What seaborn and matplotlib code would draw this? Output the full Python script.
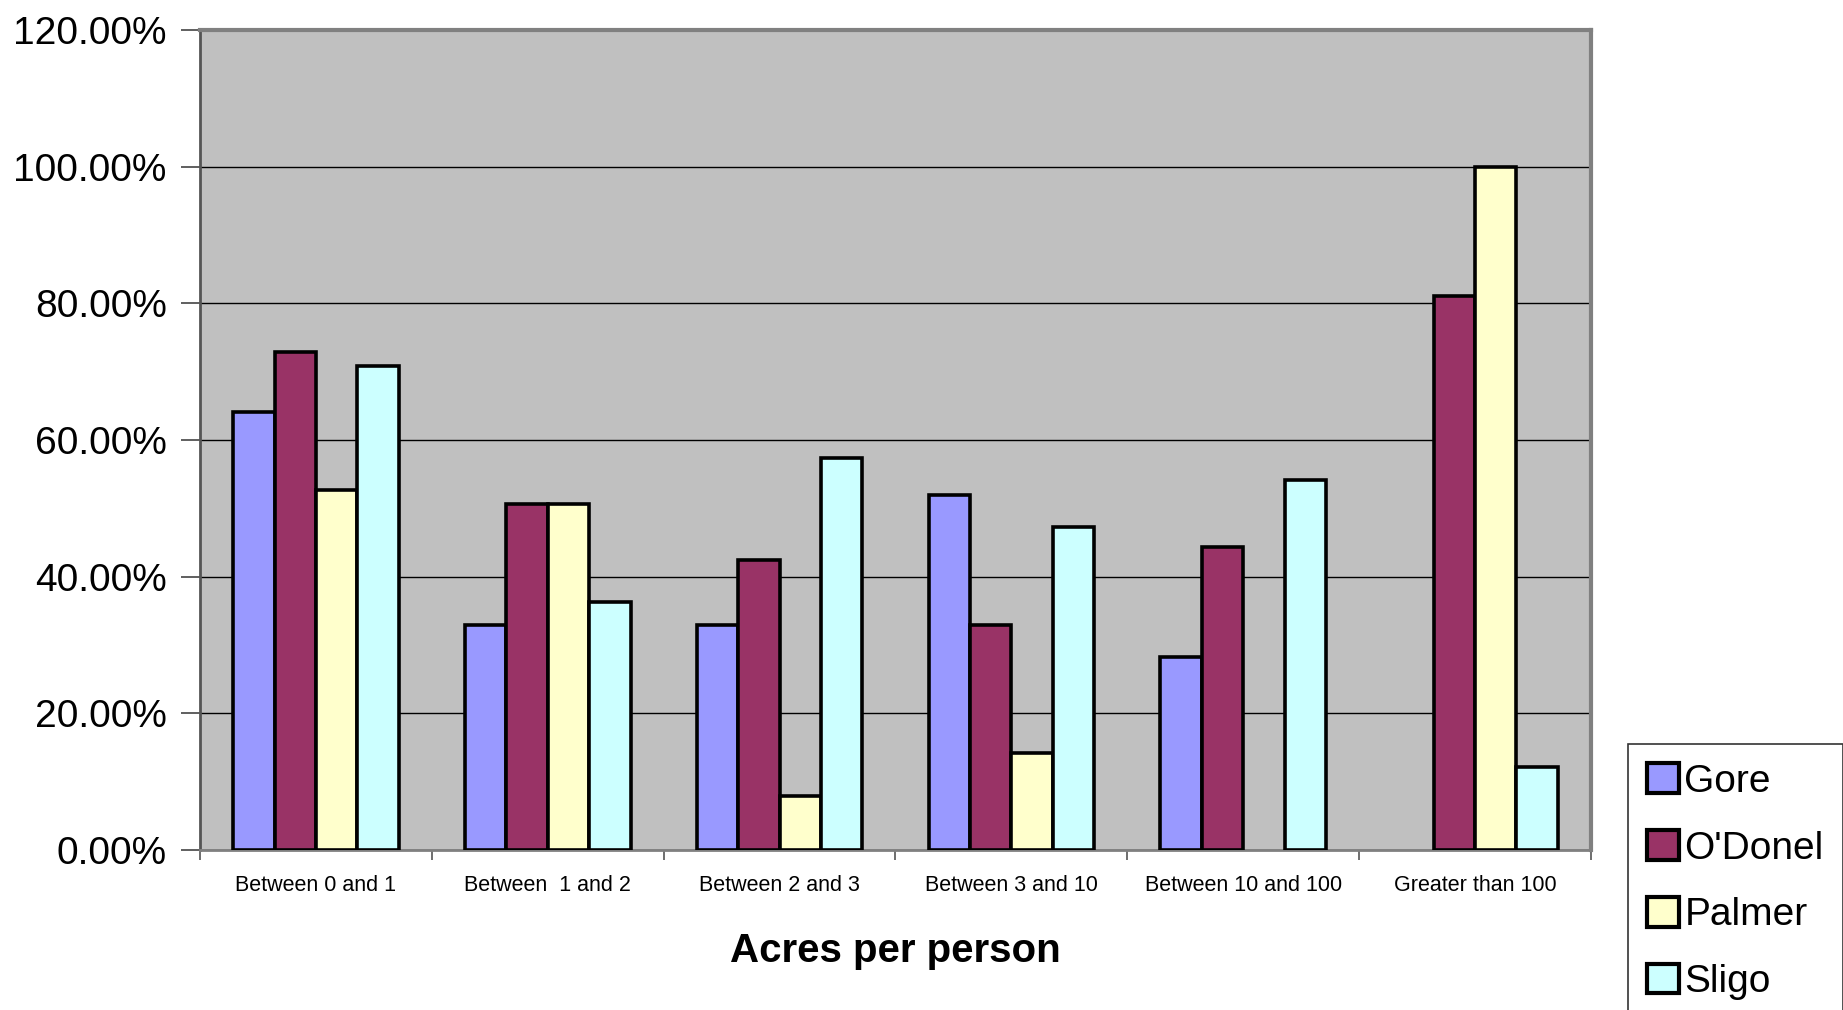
import matplotlib
matplotlib.use("Agg")
import matplotlib.pyplot as plt
import seaborn as sns
import pandas as pd
import numpy as np
from matplotlib.ticker import FuncFormatter, FixedLocator
from matplotlib.patches import Patch

categories = ["Between 0 and 1", "Between  1 and 2", "Between 2 and 3",
              "Between 3 and 10", "Between 10 and 100", "Greater than 100"]
series = ["Gore", "O'Donel", "Palmer", "Sligo"]
gore = [0.641, 0.330, 0.330, 0.520, 0.283, 0.0]
odonel = [0.729, 0.506, 0.425, 0.330, 0.444, 0.810]
palmer = [0.527, 0.506, 0.079, 0.142, 0.0, 1.000]
sligo = [0.708, 0.363, 0.573, 0.472, 0.541, 0.121]
colors = ["#9999FF", "#993366", "#FFFFCC", "#CCFFFF"]
yticks = [0, 0.2, 0.4, 0.6, 0.8, 1.0, 1.2]

rows = []
for name, vals in zip(series, [gore, odonel, palmer, sligo]):
    for c, v in zip(categories, vals):
        rows.append({"cat": c, "series": name, "val": v})
df = pd.DataFrame(rows)

sns.set_style("white")
plt.rcParams["font.family"] = ["Liberation Sans", "DejaVu Sans"]
plt.rcParams["text.color"] = "black"
plt.rcParams["xtick.color"] = "black"
plt.rcParams["ytick.color"] = "black"
plt.rcParams["axes.labelcolor"] = "black"

fig = plt.figure(figsize=(18.43, 10.10), dpi=100)
ax = fig.add_axes([200/1843, 1-850/1010, (1591-200)/1843, (850-30)/1010])
ax.set_facecolor("#C0C0C0")

sns.barplot(data=df, x="cat", y="val", hue="series", hue_order=series,
            order=categories, palette=colors, width=0.714, ax=ax,
            edgecolor="black", linewidth=2.6, saturation=1, legend=False,
            errorbar=None, zorder=3)

# zero-height bars are not drawn in the original
for p in ax.patches:
    if abs(p.get_height()) < 1e-9:
        p.set_visible(False)

ax.set_ylim(0, 1.2)
ax.set_xlim(-0.5, len(categories) - 0.5)
ax.set_yticks(yticks)
ax.yaxis.set_major_formatter(FuncFormatter(lambda v, p: f"{v*100:.2f}%"))
ax.grid(axis="y", color="black", linewidth=1.0, zorder=1)
ax.set_axisbelow(True)
ax.tick_params(axis="y", labelsize=28, length=14, width=1.2, color="#444444",
               left=True, direction="out", pad=10, labelcolor="black")
ax.tick_params(axis="x", which="major", length=0, labelsize=15.5, pad=18,
               labelcolor="black")
ax.xaxis.set_minor_locator(FixedLocator(np.arange(-0.5, len(categories), 1.0)))
ax.tick_params(axis="x", which="minor", length=7, width=1.2, color="#555555", bottom=True)

for s in ["left", "right", "top", "bottom"]:
    ax.spines[s].set_visible(True)
ax.spines["left"].set_color("#555555")
ax.spines["left"].set_linewidth(2)
ax.spines["top"].set_color("#808080")
ax.spines["top"].set_linewidth(3)
ax.spines["right"].set_color("#808080")
ax.spines["right"].set_linewidth(3)
ax.spines["bottom"].set_color("#808080")
ax.spines["bottom"].set_linewidth(2)

ax.set_ylabel("")
ax.set_xlabel("Acres per person", fontsize=29, fontweight="bold", labelpad=26,
              color="black")

handles = [Patch(facecolor=c, edgecolor="black", linewidth=3) for c in colors]
leg = fig.legend(handles, series, loc="upper left",
                 bbox_to_anchor=(1628/1843, 1-744/1010), fontsize=28,
                 frameon=True, fancybox=False, handlelength=0.8, handleheight=0.8,
                 handletextpad=0.15, labelspacing=0.78, borderpad=0.5,
                 borderaxespad=0)
leg.get_frame().set_edgecolor("black")
leg.get_frame().set_linewidth(1.2)
for t in leg.get_texts():
    t.set_color("black")

fig.savefig("out.png", dpi=100, facecolor="white")
